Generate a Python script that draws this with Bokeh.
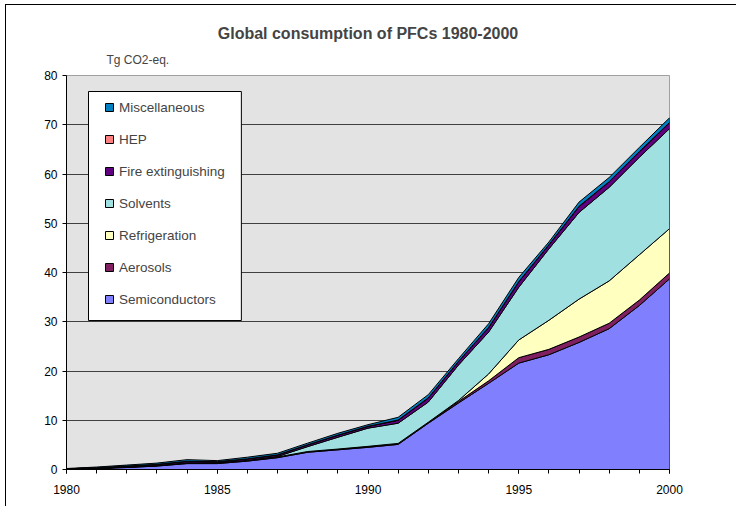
from bokeh.plotting import figure
from bokeh.models import Range1d, FixedTicker, Legend, LegendItem, Title, BoxAnnotation
from bokeh.embed import file_html
from bokeh.resources import INLINE

years = list(range(1980, 2001))
semiconductors = [0.05, 0.2, 0.4, 0.7, 1.2, 1.2, 1.7, 2.4, 3.5, 4.0, 4.5, 5.1, 9.4, 13.5, 17.5, 21.6, 23.3, 25.8, 28.6, 33.3, 38.7]
aerosols = [0.02, 0.05, 0.1, 0.1, 0.15, 0.15, 0.15, 0.15, 0.15, 0.15, 0.2, 0.2, 0.2, 0.3, 0.5, 1.1, 1.1, 1.1, 1.1, 1.1, 1.2]
refrigeration = [0, 0, 0, 0, 0, 0, 0, 0, 0, 0, 0, 0, 0, 0.2, 1.4, 3.6, 5.9, 7.7, 8.6, 9.2, 9.0]
solvents = [0, 0, 0, 0, 0, 0, 0, 0.1, 1.0, 2.4, 3.7, 4.1, 4.1, 7.2, 8.5, 10.7, 14.5, 17.6, 19.0, 19.8, 20.3]
fire_extinguishing = [0.06, 0.12, 0.2, 0.25, 0.3, 0.22, 0.3, 0.3, 0.35, 0.4, 0.35, 0.6, 0.8, 0.7, 0.9, 1.1, 0.8, 1.2, 1.1, 1.1, 1.2]
hep = [0.0, 0.0, 0.0, 0.0, 0.02, 0.02, 0.02, 0.02, 0.02, 0.03, 0.03, 0.05, 0.05, 0.05, 0.05, 0.05, 0.05, 0.05, 0.05, 0.05, 0.05]
miscellaneous = [0.07, 0.13, 0.2, 0.25, 0.33, 0.21, 0.33, 0.33, 0.33, 0.37, 0.32, 0.55, 0.65, 0.55, 0.75, 0.85, 0.55, 0.85, 0.85, 0.85, 0.95]

series_names = ["Semiconductors", "Aerosols", "Refrigeration", "Solvents", "Fire extinguishing", "HEP", "Miscellaneous"]
series_values = [semiconductors, aerosols, refrigeration, solvents, fire_extinguishing, hep, miscellaneous]
series_colors = ["#8080FF", "#802060", "#FFFFC0", "#A0E0E0", "#600080", "#FF8080", "#0080C0"]
x_tick_labels = [1980, 1985, 1990, 1995, 2000]
y_ticks = [0, 10, 20, 30, 40, 50, 60, 70, 80]

FONT = "Liberation Sans"

p = figure(width=731, height=502, output_backend="svg", toolbar_location=None,
           x_range=Range1d(1980, 2000), y_range=Range1d(0, 80),
           min_border_left=60, min_border_right=68, min_border_top=70, min_border_bottom=38,
           background_fill_color="#E3E3E3", border_fill_color="white",
           title="Global consumption of PFCs 1980-2000",
           styles={"margin-left": "5px", "margin-top": "4px",
                   "border-left": "1px solid black", "border-top": "1px solid black"})
p.outline_line_color = "#A0A0A0"
p.outline_line_width = 1

p.title.text_font = FONT
p.title.text_font_size = "16px"
p.title.text_font_style = "bold"
p.title.align = "center"
p.title.standoff = 1

p.add_layout(Title(text="Tg CO2-eq.", text_font=FONT, text_font_size="12px",
                   text_font_style="normal", align="left", offset=40,
                   standoff=17), "above")

renderers = {}
lower = [0.0] * len(years)
for name, vals, col in zip(series_names, series_values, series_colors):
    upper = [a + b for a, b in zip(lower, vals)]
    xs = years + years[::-1]
    ys = upper + lower[::-1]
    r = p.patch(xs, ys, fill_color=col, line_color="black", line_width=1, line_join="round")
    renderers[name] = r
    lower = upper

# axes
p.xaxis.ticker = FixedTicker(ticks=x_tick_labels, minor_ticks=years)
p.yaxis.ticker = FixedTicker(ticks=y_ticks)
for ax in (p.xaxis, p.yaxis):
    ax.axis_line_color = "black"
    ax.major_tick_in = 0
    ax.major_tick_out = 4
    ax.minor_tick_in = 0
    ax.minor_tick_out = 4
    ax.major_tick_line_color = "black"
    ax.minor_tick_line_color = "black"
    ax.major_label_text_font = FONT
    ax.major_label_text_font_size = "12px"
    ax.major_label_text_color = "black"
p.yaxis.minor_tick_line_color = None
p.xaxis.major_label_standoff = 11
p.yaxis.major_label_standoff = 5

p.xgrid.grid_line_color = None
p.ygrid.grid_line_color = "#404040"
p.ygrid.grid_line_width = 1

# legend box (decoration) and legend
p.add_layout(BoxAnnotation(left=1980.73, right=1985.80, bottom=30.25, top=76.75,
                           fill_color="white", fill_alpha=1, level="overlay",
                           line_color="black", line_width=1, line_alpha=1))
legend_order = ["Miscellaneous", "HEP", "Fire extinguishing", "Solvents", "Refrigeration", "Aerosols", "Semiconductors"]
items = [LegendItem(label=n, renderers=[renderers[n]]) for n in legend_order]
legend = Legend(items=items, location=(22, 146), margin=0, padding=16,
                glyph_width=10, glyph_height=10, label_height=16, spacing=16,
                label_standoff=5, level="overlay",
                label_text_font=FONT, label_text_font_size="13.5px",
                border_line_color="white", border_line_alpha=0.0,
                background_fill_alpha=0)
p.add_layout(legend, "center")

open("out.html", "w").write(file_html(p, INLINE))
